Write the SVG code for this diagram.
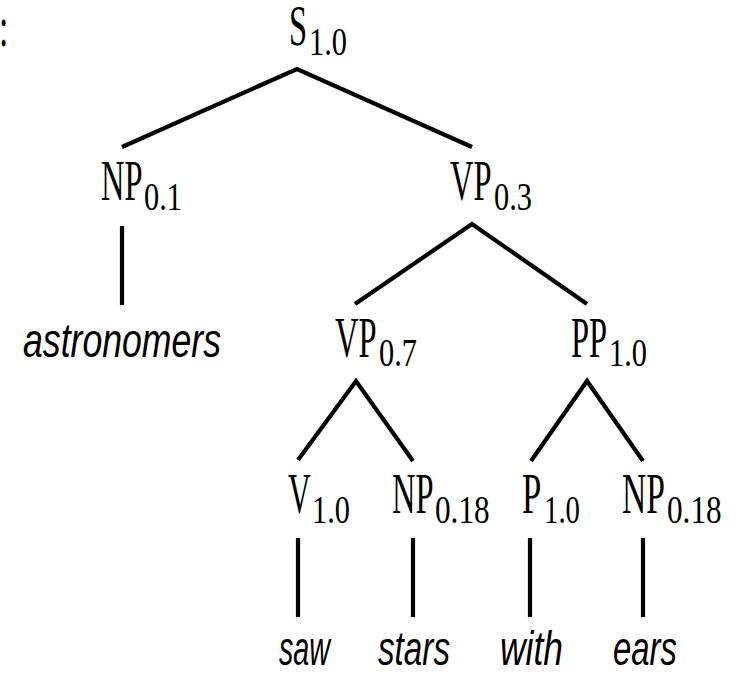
<svg xmlns="http://www.w3.org/2000/svg" width="736" height="674" viewBox="0 0 736 674">
<style>
.lbl{font-family:"Liberation Serif","Times New Roman",serif;font-size:56px;fill:#000}
.sub{font-family:"Liberation Serif","Times New Roman",serif;font-size:40px;fill:#000}
.wrd{font-family:"Liberation Sans",Arial,sans-serif;font-style:italic;font-size:49px;fill:#000}
.edge{fill:none;stroke:#000;stroke-width:4.2;stroke-linejoin:miter;stroke-linecap:butt}
</style>
<rect width="736" height="674" fill="#fff"/>
<text class="lbl" transform="translate(-1,46) scale(0.6,1)">:</text>
<g id="connectors">
<polyline class="edge" points="122,147 297,69 472,147"/>
<line class="edge" x1="122" y1="226" x2="122" y2="305"/>
<polyline class="edge" points="355,304 472,224 587,304"/>
<polyline class="edge" points="298,460 356,381 413,461"/>
<polyline class="edge" points="531,461 587,381 643,461"/>
<line class="edge" x1="298" y1="538" x2="298" y2="617"/>
<line class="edge" x1="413" y1="538" x2="413" y2="617"/>
<line class="edge" x1="530" y1="538" x2="530" y2="617"/>
<line class="edge" x1="643" y1="538" x2="643" y2="617"/>
</g>
<g id="S">
<text class="lbl" transform="translate(289,45) scale(0.58,1)">S</text>
<text class="sub" transform="translate(309,55) scale(0.76,1)">1.0</text>
</g>
<g id="NP1">
<text class="lbl" transform="translate(101,200) scale(0.58,1)">NP</text>
<text class="sub" transform="translate(144,210) scale(0.76,1)">0.1</text>
</g>
<g id="VP1">
<text class="lbl" transform="translate(450,200) scale(0.58,1)">VP</text>
<text class="sub" transform="translate(494,210) scale(0.76,1)">0.3</text>
</g>
<g id="astronomers">
<text class="wrd" x="23" y="357" textLength="198" lengthAdjust="spacingAndGlyphs">astronomers</text>
</g>
<g id="VP2">
<text class="lbl" transform="translate(335,357) scale(0.58,1)">VP</text>
<text class="sub" transform="translate(379,366) scale(0.76,1)">0.7</text>
</g>
<g id="PP">
<text class="lbl" transform="translate(571,357) scale(0.58,1)">PP</text>
<text class="sub" transform="translate(609,366) scale(0.76,1)">1.0</text>
</g>
<g id="V">
<text class="lbl" transform="translate(288,513) scale(0.56,1)">V</text>
<text class="sub" transform="translate(312,523) scale(0.76,1)">1.0</text>
</g>
<g id="NP2">
<text class="lbl" transform="translate(392,513) scale(0.58,1)">NP</text>
<text class="sub" transform="translate(435,523) scale(0.78,1)">0.18</text>
</g>
<g id="P">
<text class="lbl" transform="translate(522,513) scale(0.62,1)">P</text>
<text class="sub" transform="translate(544,523) scale(0.72,1)">1.0</text>
</g>
<g id="NP3">
<text class="lbl" transform="translate(622,513) scale(0.6,1)">NP</text>
<text class="sub" transform="translate(667,523) scale(0.78,1)">0.18</text>
</g>
<g id="saw"><text class="wrd" x="279" y="665" textLength="51" lengthAdjust="spacingAndGlyphs">saw</text></g>
<g id="stars"><text class="wrd" x="378" y="665" textLength="72" lengthAdjust="spacingAndGlyphs">stars</text></g>
<g id="with"><text class="wrd" x="500" y="665" textLength="63" lengthAdjust="spacingAndGlyphs">with</text></g>
<g id="ears"><text class="wrd" x="613" y="665" textLength="64" lengthAdjust="spacingAndGlyphs">ears</text></g>
</svg>
